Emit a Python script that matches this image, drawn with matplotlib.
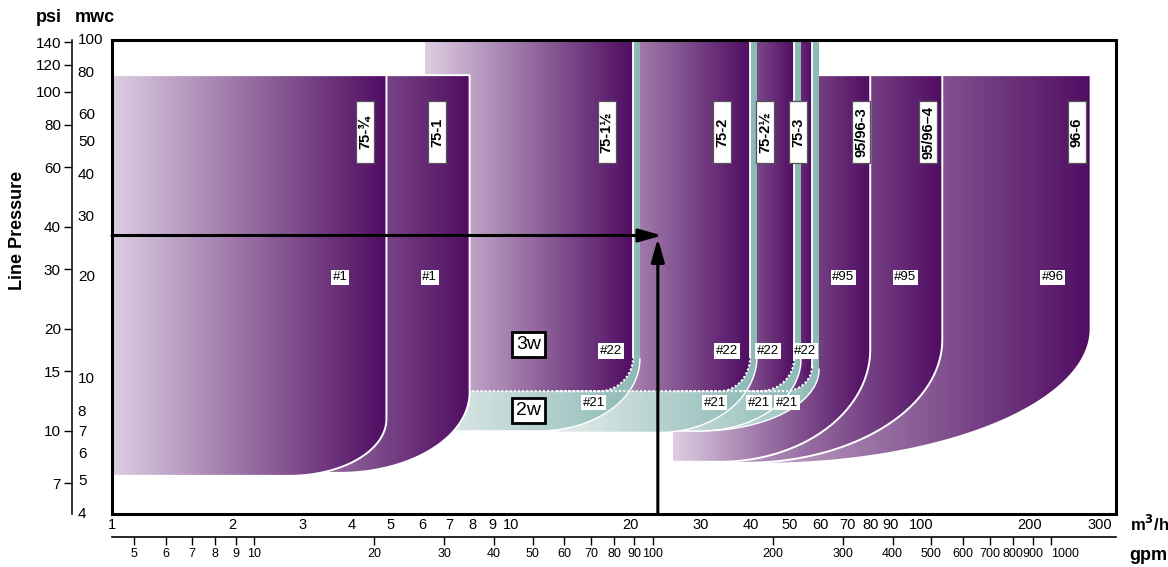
import numpy as np
import matplotlib
matplotlib.use('Agg')
import matplotlib.pyplot as plt
import matplotlib.transforms as mtransforms
from matplotlib.colors import LinearSegmentedColormap
from matplotlib.patches import Polygon, Rectangle
from matplotlib.ticker import NullLocator

plt.rcParams['font.family'] = ['Liberation Sans Narrow', 'Liberation Sans', 'DejaVu Sans']

PSI_PER_MWC = 1.422
GPM_PER_M3H = 4.403

## axis ticks
flow_ticks = [1, 2, 3, 4, 5, 6, 7, 8, 9, 10, 20, 30, 40, 50, 60, 70, 80, 90, 100, 200, 300]
gpm_ticks = [5, 6, 7, 8, 9, 10, 20, 30, 40, 50, 60, 70, 80, 90, 100, 200, 300, 400, 500,
             600, 700, 800, 900, 1000]
psi_ticks = [7, 10, 15, 20, 30, 40, 60, 80, 100, 120, 140]
mwc_ticks = [4, 5, 6, 7, 8, 10, 20, 30, 40, 50, 60, 80, 100]

## large valves (drawn first, back to front) - flow in m3/h, pressure in psi
big_q_left = [25.5, 25.5, 25.5]
big_q_right = [285.0, 121.0, 79.8]
big_p_top = [112, 112, 112]
big_p_knee = [20.0, 18.6, 17.4]
big_q_foot = [42.2, 38.7, 33.5]
big_p_bottom = [8.0, 8.05, 8.11]

## 3-way / 2-way valves (back to front)
w3_q_left = [37.6, 25.7, 13.05, 6.08]
w3_q_right = [57.0, 51.4, 39.9, 20.3]
w3_p_knee = [15.5, 16.3, 16.6, 16.6]
w3_q_foot = [48.8, 42.2, 33.5, 16.7]
w3_p_bottom = [13.1, 13.1, 13.1, 13.1]
w2_q_left = [27.0, 18.8, 13.05, 6.08]
w2_q_right = [59.4, 53.5, 41.5, 21.1]
w2_p_knee = [15.2, 16.3, 16.6, 16.3]
w2_q_foot = [29.9, 29.9, 23.7, 11.8]
w2_p_bottom = [10.0, 10.0, 9.9, 10.0]

## small valves (drawn last, 75-1 then 75-3/4)
small_q_left = [1.45, 1.0]
small_q_right = [7.89, 4.88]
small_p_top = [112, 112]
small_p_knee = [13.0, 10.85]
small_q_foot = [3.72, 2.78]
small_p_bottom = [7.52, 7.37]

## labels
model_names = ['75-¾', '75-1', '75-1½', '75-2', '75-2½', '75-3', '95/96-3', '95/96–4', '96-6']
model_q = [4.32, 6.55, 17.4, 33.9, 43.5, 52.6, 75.8, 111.6, 262.8]
model_p = 76
orifice_names = ['#1', '#1', '#95', '#95', '#96',
                 '#22', '#22', '#22', '#22',
                 '#21', '#21', '#21', '#21']
orifice_q = [3.74, 6.26, 68.3, 97.7, 228.7,
             17.84, 34.9, 44.2, 54.8,
             16.16, 32.5, 42.0, 49.4]
orifice_p = [28.4] * 5 + [17.2] * 4 + [12.1] * 4
way_names = ['3w', '2w']
way_q = 11.1
way_p = [18.0, 11.5]

## worked example
ex_q = 23.4
ex_p = 37.7

purple = LinearSegmentedColormap.from_list('purple', ['#ddcde1', '#500d62'])
teal = LinearSegmentedColormap.from_list('teal', ['#e3ecea', '#8cb9b6'])


def outline(q_left, q_right, p_top, p_knee, q_foot, p_bottom, n=60):
    t = np.linspace(0, np.pi / 2, n)
    lq = np.log10(q_foot) + (np.log10(q_right) - np.log10(q_foot)) * np.cos(t)
    lp = np.log10(p_knee) - (np.log10(p_knee) - np.log10(p_bottom)) * np.sin(t)
    qs = np.concatenate([[q_left, q_left, q_right], 10 ** lq])
    ps = np.concatenate([[p_bottom, p_top, p_top], 10 ** lp])
    return qs, ps


def gradient_shape(qs, ps, cmap, z):
    patch = Polygon(np.column_stack([qs, ps]), closed=True, fc='none', ec='none', zorder=z)
    ax.add_patch(patch)
    edges = np.logspace(np.log10(qs[0]), np.log10(qs[2]), 150)
    mesh = ax.pcolormesh(edges, [ps.min(), ps.max()], np.linspace(0, 1, 149)[None, :],
                         cmap=cmap, vmin=0, vmax=1, shading='flat', zorder=z,
                         antialiased=False, linewidth=0)
    mesh.set_clip_path(patch)


fig = plt.figure(figsize=(11.68, 5.67), dpi=100)
ax = fig.add_axes([112 / 1168, (567 - 514) / 567, (1116 - 112) / 1168, (514 - 40) / 567])
ax.set_xscale('log')
ax.set_yscale('log')
ax.set_xlim(1, 330)
ax.set_ylim(4 * PSI_PER_MWC, 100 * PSI_PER_MWC)
p_max = 100 * PSI_PER_MWC

z = 1
# big valves
for i in range(len(big_q_left)):
    qs, ps = outline(big_q_left[i], big_q_right[i], big_p_top[i], big_p_knee[i],
                     big_q_foot[i], big_p_bottom[i])
    gradient_shape(qs, ps, purple, z)
    ax.plot(np.append(qs[1:], qs[0]), np.append(ps[1:], ps[0]), color='white', lw=1.4, zorder=z + 0.5)
    z += 1

# 3w / 2w valves
dotted = []
for i in range(len(w3_q_left)):
    qs, ps = outline(w2_q_left[i], w2_q_right[i], p_max, w2_p_knee[i], w2_q_foot[i], w2_p_bottom[i])
    gradient_shape(qs, ps, teal, z)
    ax.plot(np.append(qs[3:], qs[0]), np.append(ps[3:], ps[0]), color='white', lw=1.0, zorder=z + 0.5)
    z += 1
    qs, ps = outline(w3_q_left[i], w3_q_right[i], p_max, w3_p_knee[i], w3_q_foot[i], w3_p_bottom[i])
    gradient_shape(qs, ps, purple, z)
    ax.plot(qs[2:4], ps[2:4], color='white', lw=1.3, zorder=z + 0.5)
    dotted.append((np.append(qs[3:], qs[0]), np.append(ps[3:], ps[0])))
    z += 1
for qd, pd in dotted:
    ax.plot(qd, pd, color='white', lw=1.5, ls=(0, (1, 1)), zorder=z)
z += 1

# small valves
for i in range(len(small_q_left)):
    qs, ps = outline(small_q_left[i], small_q_right[i], small_p_top[i], small_p_knee[i],
                     small_q_foot[i], small_p_bottom[i])
    gradient_shape(qs, ps, purple, z)
    ax.plot(np.append(qs[1:], qs[0]), np.append(ps[1:], ps[0]), color='white', lw=1.4, zorder=z + 0.5)
    z += 1

# model labels in fixed boxes
for name, q in zip(model_names, model_q):
    tr = mtransforms.Affine2D() + mtransforms.ScaledTranslation(q, model_p, ax.transData)
    ax.add_patch(Rectangle((-9, -31), 18, 62, transform=tr, fc='white', ec='#555555',
                           lw=0.9, zorder=30))
    ax.text(q, model_p, name, rotation=90, ha='center', va='center', fontsize=10.5,
            fontweight='bold', zorder=31)

for name, q, p in zip(orifice_names, orifice_q, orifice_p):
    ax.text(q, p, name, ha='center', va='center', fontsize=9.5, zorder=31,
            bbox=dict(boxstyle='square,pad=0.12', fc='white', ec='none'))

for name, p in zip(way_names, way_p):
    ax.text(way_q, p, name, ha='center', va='center', fontsize=14, zorder=31,
            bbox=dict(boxstyle='square,pad=0.22', fc='white', ec='black', lw=2))

# example arrows
ax.annotate('', xy=(ex_q * 1.024, ex_p), xytext=(1.0, ex_p), annotation_clip=False,
            arrowprops=dict(arrowstyle='-|>,head_length=0.7,head_width=0.2', lw=2.2,
                            color='black', shrinkA=0, shrinkB=0, mutation_scale=20), zorder=35)
ax.annotate('', xy=(ex_q, ex_p * 0.98), xytext=(ex_q, 4 * PSI_PER_MWC), annotation_clip=False,
            arrowprops=dict(arrowstyle='-|>,head_length=0.7,head_width=0.2', lw=2.2,
                            color='black', shrinkA=0, shrinkB=0, mutation_scale=20), zorder=35)

# frame
ax.add_patch(Rectangle((0, 0), 1, 1, transform=ax.transAxes, fill=False, ec='black',
                       lw=2.2, zorder=40, clip_on=False))
for side in ['top', 'right', 'bottom']:
    ax.spines[side].set_visible(False)
ax.spines['left'].set_position(('outward', 28.8))
ax.spines['left'].set_linewidth(1.1)

ax.xaxis.set_minor_locator(NullLocator())
ax.yaxis.set_minor_locator(NullLocator())
ax.set_xticks(flow_ticks)
ax.set_xticklabels([str(v) for v in flow_ticks])
ax.tick_params(axis='x', length=0, pad=3, labelsize=10.5)
# the 100 label sits just right of its position, as on the original sheet
ax.get_xticklabels()[flow_ticks.index(100)].set_ha('left')
ax.set_yticks(psi_ticks)
ax.set_yticklabels([str(v) for v in psi_ticks])
ax.tick_params(axis='y', length=6, width=1, pad=2, labelsize=11)

# mwc labels right of the pressure axis
mwc_tr = mtransforms.blended_transform_factory(ax.transAxes, ax.transData)
for v in mwc_ticks:
    ax.text(-0.034, v * PSI_PER_MWC, str(v), transform=mwc_tr, ha='left', va='center',
            fontsize=11, clip_on=False)

# gpm axis
sec = ax.secondary_xaxis(-0.0485, functions=(lambda q: q * GPM_PER_M3H, lambda g: g / GPM_PER_M3H))
sec.xaxis.set_minor_locator(NullLocator())
sec.set_ticks(gpm_ticks, labels=[str(v) for v in gpm_ticks])
sec.tick_params(axis='x', length=6, width=1, pad=2, labelsize=9)
sec.spines['bottom'].set_linewidth(1.2)
sec.get_xticklabels()[gpm_ticks.index(1000)].set_ha('left')

fig.text(49 / 1168, 1 - 18 / 567, 'psi', ha='center', va='center', fontsize=13, fontweight='bold')
fig.text(95 / 1168, 1 - 18 / 567, 'mwc', ha='center', va='center', fontsize=13, fontweight='bold')
fig.text(18 / 1168, 1 - 230 / 567, 'Line Pressure', rotation=90, ha='center', va='center',
         fontsize=13, fontweight='bold')
fig.text(1130 / 1168, 1 - 524 / 567, 'm$^\\mathbf{3}$/h', ha='left', va='center', fontsize=12,
         fontweight='bold')
fig.text(1148 / 1168, 1 - 556 / 567, 'gpm', ha='center', va='center', fontsize=13, fontweight='bold')

plt.savefig('out.png', dpi=100)
